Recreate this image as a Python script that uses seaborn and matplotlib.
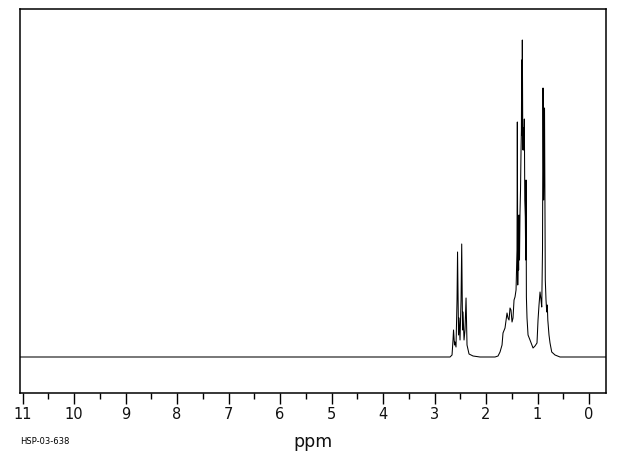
import matplotlib
matplotlib.use("Agg")
import matplotlib.pyplot as plt
import seaborn as sns
import pandas as pd
from matplotlib.ticker import MultipleLocator

sns.set_theme(style="white")
plt.rcParams['font.family'] = ['DejaVu Sans']

# Chemical shift (ppm) and relative intensity of the traced spectrum vertices
ppm = [11.05, 2.699, 2.660, 2.641, 2.631, 2.612, 2.602, 2.583, 2.563, 2.553,
       2.534, 2.524, 2.505, 2.485, 2.472, 2.456, 2.447, 2.427, 2.408, 2.388,
       2.369, 2.330, 2.252, 2.117,
       1.825, 1.767, 1.728, 1.689, 1.670, 1.631, 1.592, 1.573, 1.553, 1.534,
       1.515, 1.495, 1.476, 1.456, 1.437, 1.417, 1.398, 1.392, 1.384, 1.375,
       1.367, 1.359, 1.350, 1.340, 1.330, 1.320, 1.313, 1.307, 1.301, 1.295,
       1.287, 1.282, 1.274, 1.266, 1.256, 1.247, 1.237, 1.229, 1.223, 1.216,
       1.204, 1.184, 1.146, 1.087, 1.049, 1.010, 0.990, 0.971, 0.951, 0.932,
       0.918, 0.903, 0.893, 0.880, 0.864, 0.849, 0.835, 0.821, 0.810, 0.800,
       0.777, 0.757, 0.724, 0.660, 0.563, -0.330]
intensity = [0, 0, 2, 17, 27, 12, 15, 10, 57, 105,
             22, 39, 17, 57, 113, 27, 45, 17, 27, 59,
             12, 3, 1, 0,
             0, 1, 5, 12, 24, 29, 44, 39, 37, 49,
             47, 35, 39, 57, 60, 67, 107, 235, 72, 117,
             87, 142, 97, 144, 167, 207, 227, 297, 222, 317,
             227, 207, 229, 207, 238, 157, 140, 97, 177, 60,
             39, 22, 17, 9, 11, 14, 37, 52, 65, 57,
             50, 107, 269, 157, 249, 77, 57, 45, 52, 37,
             22, 14, 5, 2, 0, 0]

major_ticks = list(range(0, 12))
tick_labels = [str(t) for t in major_ticks]

df = pd.DataFrame({"ppm": ppm, "intensity": intensity})

fig = plt.figure(figsize=(6.2, 4.55), dpi=100)
ax = fig.add_axes([20/620, 62/455, 586/620, 384/455])

sns.lineplot(data=df, x="ppm", y="intensity", ax=ax, sort=False,
             estimator=None, color="black", linewidth=0.75)

ax.set_xlim(11.05, -0.33)
ax.set_ylim(-36, 348)

ax.set_xticks(major_ticks)
ax.set_xticklabels(tick_labels, fontsize=10.5)
ax.xaxis.set_minor_locator(MultipleLocator(0.5))
ax.tick_params(axis="x", which="major", direction="out", length=8, width=1,
               color="black", bottom=True, pad=2, labelcolor="#111111")
ax.tick_params(axis="x", which="minor", direction="out", length=4, width=1,
               color="black", bottom=True)
ax.set_yticks([])
ax.set_ylabel("")
ax.set_xlabel("ppm", fontsize=12.5, labelpad=8, color="#111111")

for s in ax.spines.values():
    s.set_color("black")
    s.set_linewidth(1.1)
    s.set_visible(True)

fig.text(20/620, 1 - 441/455, "HSP-03-638", fontsize=6, va="center",
         ha="left", color="black")

fig.savefig("out.png", dpi=100, facecolor="white")
